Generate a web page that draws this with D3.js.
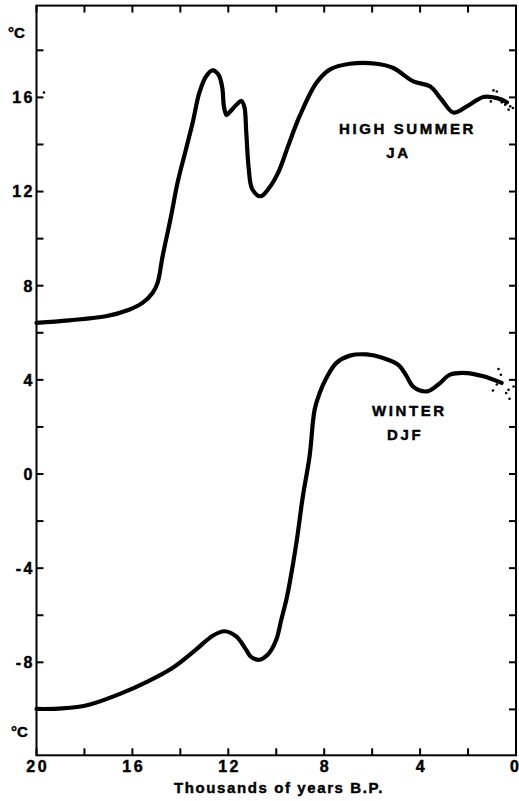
<!DOCTYPE html>
<html>
<head>
<meta charset="utf-8">
<script src="https://cdn.jsdelivr.net/npm/d3@7"></script>
<style>
  html, body { margin: 0; padding: 0; background: #fff; }
  svg { display: block; }
  text { font-family: "Liberation Sans", Arial, Helvetica, sans-serif; font-weight: bold; fill: #000;
         stroke: #000; stroke-width: 0.45px; paint-order: stroke; }
</style>
</head>
<body>
<svg id="chart" width="519" height="801"></svg>
<script>
// Reconstructed temperatures (°C) against age (thousands of years B.P.)
const summerAge  = [20, 18.65, 17.11, 16.14, 15.58, 15.16, 14.95, 14.74, 14.39, 14.12, 13.77, 13.49, 13.21, 12.93, 12.65, 12.40, 12.25, 12.18, 12.07, 11.92, 11.65, 11.45, 11.33, 11.25, 11.15, 11.0, 10.65, 10.3, 9.9, 9.5, 9.03, 8.33, 7.77, 6.93, 5.82, 5.12, 4.28, 3.59, 3.10, 2.61, 2.05, 1.36, 0.79, 0.38];
const summerTemp = [6.42, 6.53, 6.70, 6.98, 7.27, 7.69, 8.12, 9.25, 10.94, 12.36, 13.78, 14.91, 16.19, 16.89, 17.15, 16.95, 16.4, 15.6, 15.25, 15.4, 15.7, 15.85, 15.6, 14.5, 13.0, 12.1, 11.8, 12.15, 12.85, 13.95, 15.19, 16.61, 17.18, 17.43, 17.43, 17.25, 16.68, 16.47, 15.90, 15.36, 15.62, 16.02, 15.97, 15.79];

const winterAge  = [20, 18.93, 17.81, 16.42, 15.44, 14.33, 13.35, 12.65, 12.16, 11.67, 11.26, 11.05, 10.70, 10.35, 10.0, 9.79, 9.58, 9.44, 9.16, 8.89, 8.61, 8.40, 8.19, 7.91, 7.49, 6.93, 6.23, 5.54, 4.91, 4.56, 4.28, 3.72, 3.24, 2.75, 2.05, 1.36, 0.6];
const winterTemp = [-9.98, -9.96, -9.80, -9.30, -8.85, -8.24, -7.46, -6.87, -6.68, -6.90, -7.46, -7.77, -7.89, -7.67, -7.04, -6.19, -5.34, -4.63, -2.93, -0.95, 0.75, 2.73, 3.44, 4.08, 4.72, 5.03, 5.08, 4.93, 4.64, 4.15, 3.70, 3.51, 3.80, 4.22, 4.29, 4.15, 3.87];

// Scatter of present-day values around the end of each curve
const summerDotAge  = [0.94, 0.80, 1.05, 0.59, 0.45, 0.24, 0.31, 0.13];
const summerDotTemp = [16.30, 16.25, 15.83, 15.79, 15.69, 15.62, 15.48, 15.55];
const winterDotAge  = [0.73, 0.63, 0.80, 0.96, 0.31, 0.41, 0.10, 0.27];
const winterDotTemp = [4.46, 4.22, 3.80, 3.55, 3.58, 3.44, 3.72, 3.20];

// Isolated point near the start of the summer series
const loneDotAge = [19.69];
const loneDotTemp = [16.21];

// Axis ticks and labels
const xTicks = [20, 18, 16, 14, 12, 10, 8, 6, 4, 2, 0];
const xLabels = [20, 16, 12, 8, 4, 0];
const yTicks = [-10, -8, -6, -4, -2, 0, 2, 4, 6, 8, 10, 12, 14, 16, 18];
const yLabels = [-8, -4, 0, 4, 8, 12, 16];

const curveLabels = [
  { text: "HIGH SUMMER", age: 4.58, temp: 14.45 },
  { text: "JA",          age: 4.96, temp: 13.41 },
  { text: "WINTER",      age: 4.5,  temp: 2.47 },
  { text: "DJF",         age: 4.68, temp: 1.45 }
];

const svg = d3.select("#chart");
const x = d3.scaleLinear().domain([20, 0]).range([36.5, 516]);
const y = d3.scaleLinear().domain([-11.95, 19.9]).range([755.3, 5.6]);

const ink = "#000";
const [x0, x1] = x.range();
const [y0, y1] = y.range();

// Frame with inward ticks on all four sides
const tick = 7;
const axes = svg.append("g").attr("stroke", ink).attr("stroke-width", 2).attr("fill", "none");
axes.append("rect")
  .attr("x", x0).attr("y", y1)
  .attr("width", x1 - x0).attr("height", y0 - y1);

axes.selectAll("line.xb").data(xTicks).join("line").attr("class", "xb")
  .attr("x1", d => x(d)).attr("x2", d => x(d))
  .attr("y1", y0).attr("y2", y0 - tick);
axes.selectAll("line.xt").data(xTicks).join("line").attr("class", "xt")
  .attr("x1", d => x(d)).attr("x2", d => x(d))
  .attr("y1", y1).attr("y2", y1 + tick);
axes.selectAll("line.yl").data(yTicks).join("line").attr("class", "yl")
  .attr("y1", d => y(d)).attr("y2", d => y(d))
  .attr("x1", x0).attr("x2", x0 + tick);
axes.selectAll("line.yr").data(yTicks).join("line").attr("class", "yr")
  .attr("y1", d => y(d)).attr("y2", d => y(d))
  .attr("x1", x1).attr("x2", x1 - tick);

// Tick labels
const numSize = 16, numSpace = 2.5;
svg.selectAll("text.xl").data(xLabels).join("text").attr("class", "xl")
  .attr("x", d => d === 0 ? 519 : x(d) + numSpace / 2)
  .attr("y", y0 + 17)
  .attr("text-anchor", d => d === 0 ? "end" : "middle")
  .attr("font-size", numSize).attr("letter-spacing", d => d === 0 ? 0 : numSpace)
  .text(d => d);

svg.selectAll("text.yl").data(yLabels).join("text").attr("class", "yl")
  .attr("x", x0 - 4 + numSpace).attr("y", d => y(d) + 5.8)
  .attr("text-anchor", "end")
  .attr("font-size", numSize).attr("letter-spacing", numSpace)
  .text(d => String(d));

svg.append("text").attr("x", 8).attr("y", 38).attr("font-size", 15).text("°C");
svg.append("text").attr("x", 11).attr("y", 737).attr("font-size", 15).text("°C");

svg.append("text")
  .attr("x", 279).attr("y", 793)
  .attr("text-anchor", "middle")
  .attr("font-size", 15).attr("letter-spacing", 1.6)
  .text("Thousands of years B.P.");

// Temperature curves
const line = d3.line()
  .x(d => x(d[0])).y(d => y(d[1]))
  .curve(d3.curveCatmullRom.alpha(0.5));

const series = [
  d3.zip(summerAge, summerTemp),
  d3.zip(winterAge, winterTemp)
];
svg.append("g").selectAll("path").data(series).join("path")
  .attr("d", line)
  .attr("fill", "none")
  .attr("stroke", ink)
  .attr("stroke-width", 4.2)
  .attr("stroke-linejoin", "round")
  .attr("stroke-linecap", "round");

// Scatter dots
const dots = [
  ...d3.zip(summerDotAge, summerDotTemp),
  ...d3.zip(winterDotAge, winterDotTemp),
  ...d3.zip(loneDotAge, loneDotTemp)
];
svg.append("g").selectAll("circle").data(dots).join("circle")
  .attr("cx", d => x(d[0])).attr("cy", d => y(d[1]))
  .attr("r", 1.3).attr("fill", ink);

// Curve names
svg.append("g").selectAll("text").data(curveLabels).join("text")
  .attr("x", d => x(d.age) + 1.3).attr("y", d => y(d.temp))
  .attr("text-anchor", "middle")
  .attr("font-size", 15).attr("letter-spacing", 2.6)
  .text(d => d.text);
</script>
</body>
</html>
